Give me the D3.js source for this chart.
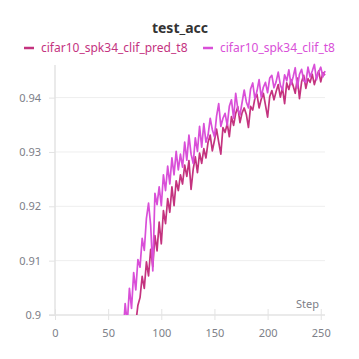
<!DOCTYPE html>
<html>
<head>
<meta charset="utf-8">
<script src="https://cdn.jsdelivr.net/npm/d3@7"></script>
<style>
  html, body { margin: 0; padding: 0; background: #fff; }
  svg { display: block; }
</style>
</head>
<body>
<svg id="chart" width="359" height="359"></svg>
<script>
const title = "test_acc";
const seriesNames = ["cifar10_spk34_clif_pred_t8", "cifar10_spk34_clif_t8"];
const seriesColors = ["#c4337f", "#d94fd8"];
const steps = d3.range(60, 255, 2);
const xTicks = [0, 50, 100, 150, 200, 250];
const yTicks = [0.9, 0.91, 0.92, 0.93, 0.94];
const yTickLabels = ["0.9", "0.91", "0.92", "0.93", "0.94"];
const xLabel = "Step";

const predValues = [
  0.8875, 0.8902, 0.8889, 0.8931, 0.8912, 0.8948, 0.8941, 0.8972, 0.8985, 0.9018,
  0.9032, 0.9071, 0.9049, 0.9098, 0.9072, 0.9121, 0.9089, 0.9146, 0.9118, 0.9171,
  0.9131, 0.9192, 0.9168, 0.9214, 0.9189, 0.9236, 0.9201, 0.9247, 0.9229, 0.9258,
  0.9241, 0.9276, 0.9255, 0.9284, 0.9231, 0.9268, 0.9291, 0.9262, 0.9298, 0.9279,
  0.9306, 0.9289, 0.9318, 0.9331, 0.9302, 0.9321, 0.9342, 0.9318, 0.9296, 0.9345,
  0.9336, 0.9352, 0.9328, 0.9365, 0.9349, 0.9371, 0.9383, 0.9354, 0.9372, 0.9381,
  0.9369, 0.9345, 0.9384, 0.9377, 0.9398, 0.9406, 0.9381, 0.9397, 0.9408, 0.9386,
  0.9364, 0.9402, 0.9413, 0.9396, 0.9411, 0.9424, 0.9401, 0.9418, 0.9389, 0.9427,
  0.9415, 0.9433, 0.9422, 0.9408, 0.9436, 0.9398, 0.9429, 0.9441, 0.9417, 0.9435,
  0.9428, 0.9443, 0.9424, 0.9438, 0.9449, 0.9429, 0.9446, 0.9441
];

const clifValues = [
  0.8955, 0.8978, 0.8962, 0.9021, 0.8985, 0.9049, 0.9012, 0.9078, 0.9046, 0.9102,
  0.9088, 0.9141, 0.9119, 0.9178, 0.9206, 0.9165, 0.9081, 0.9224, 0.9203, 0.9236,
  0.9201, 0.9258, 0.9229, 0.9274, 0.9241, 0.9289, 0.9258, 0.9301, 0.9267, 0.9296,
  0.9272, 0.9318, 0.9285, 0.9331, 0.9296, 0.9279, 0.9326, 0.9301, 0.9347, 0.9309,
  0.9352, 0.9318, 0.9331, 0.9362, 0.9341, 0.9328, 0.9366, 0.9389, 0.9347, 0.9362,
  0.9371, 0.9349, 0.9384, 0.9396, 0.9362, 0.9408, 0.9379, 0.9368, 0.9391, 0.9414,
  0.9392, 0.9381, 0.9416, 0.9427, 0.9398, 0.9412, 0.9433, 0.9401, 0.9419, 0.9428,
  0.9409, 0.9436, 0.9441, 0.9418, 0.9429, 0.9447, 0.9423, 0.9414, 0.9442, 0.9431,
  0.9451, 0.9424, 0.9438, 0.9455, 0.9418, 0.9443, 0.9452, 0.9431, 0.9428, 0.9456,
  0.9438, 0.9449, 0.9461, 0.9433, 0.9447, 0.9456, 0.9438, 0.9449
];

const font = "'Noto Sans', 'Open Sans', sans-serif";
const svg = d3.select("#chart");
const plotLeft = 55, plotRight = 325, plotTop = 65, plotBottom = 315;

const x = d3.scaleLinear().domain([0, 254]).range([plotLeft, plotRight]);
const y = d3.scaleLinear().domain([0.9, 0.946]).range([plotBottom, plotTop]);

// title
svg.append("text").attr("x", 180).attr("y", 33).attr("text-anchor", "middle")
  .attr("font-family", font).attr("font-size", 14).attr("font-weight", "bold")
  .attr("fill", "#333").text(title);

// legend
const legendX = [24, 203];
seriesNames.forEach((n, i) => {
  const g = svg.append("g");
  g.append("line").attr("x1", legendX[i]).attr("x2", legendX[i] + 10)
    .attr("y1", 48).attr("y2", 48).attr("stroke", seriesColors[i]).attr("stroke-width", 2.5);
  g.append("text").attr("x", legendX[i] + 17).attr("y", 52)
    .attr("font-family", font).attr("font-size", 12).attr("fill", seriesColors[i]).text(n);
});

// grid
svg.append("g").selectAll("line").data(yTicks.slice(1)).join("line")
  .attr("x1", plotLeft).attr("x2", plotRight).attr("y1", d => y(d)).attr("y2", d => y(d))
  .attr("stroke", "#eeeeee").attr("stroke-width", 1);

// y axis
const yAxis = d3.axisLeft(y).tickValues(yTicks).tickFormat((d, i) => yTickLabels[i]).tickSize(6).tickPadding(8);
const gy = svg.append("g").attr("transform", `translate(${plotLeft},0)`).call(yAxis);
gy.select(".domain").attr("stroke", "#e3e3e3").attr("stroke-width", 1.5).attr("d", `M0,${plotTop}V${plotBottom}`);
gy.selectAll(".tick line").attr("stroke", "#e3e3e3").attr("stroke-width", 1);
gy.selectAll(".tick text").attr("font-family", font).attr("font-size", 11).attr("fill", "#7d8088");

// x axis
const xAxis = d3.axisBottom(x).tickValues(xTicks).tickSize(5).tickPadding(9);
const gx = svg.append("g").attr("transform", `translate(0,${plotBottom})`).call(xAxis);
gx.select(".domain").attr("stroke", "#e3e3e3").attr("stroke-width", 1.5).attr("d", `M${plotLeft - 6},0H${plotRight}`);
gx.selectAll(".tick line").attr("stroke", "#e3e3e3").attr("stroke-width", 1).attr("y1", -6);
gx.selectAll(".tick text").attr("font-family", font).attr("font-size", 11).attr("fill", "#7d8088");

svg.append("text").attr("x", 319).attr("y", 308).attr("text-anchor", "end")
  .attr("font-family", font).attr("font-size", 11).attr("fill", "#7d8088").text(xLabel);

// clip
svg.append("clipPath").attr("id", "clip").append("rect")
  .attr("x", plotLeft).attr("y", plotTop - 5).attr("width", plotRight - plotLeft + 10).attr("height", plotBottom - plotTop + 5);

const line = d3.line().x((d, i) => x(steps[i])).y(d => y(d));
const plot = svg.append("g").attr("clip-path", "url(#clip)");
[predValues, clifValues].forEach((vals, i) => {
  plot.append("path").datum(vals).attr("d", line).attr("fill", "none")
    .attr("stroke", seriesColors[i]).attr("stroke-width", 1.7).attr("stroke-linejoin", "round");
});
</script>
</body>
</html>
